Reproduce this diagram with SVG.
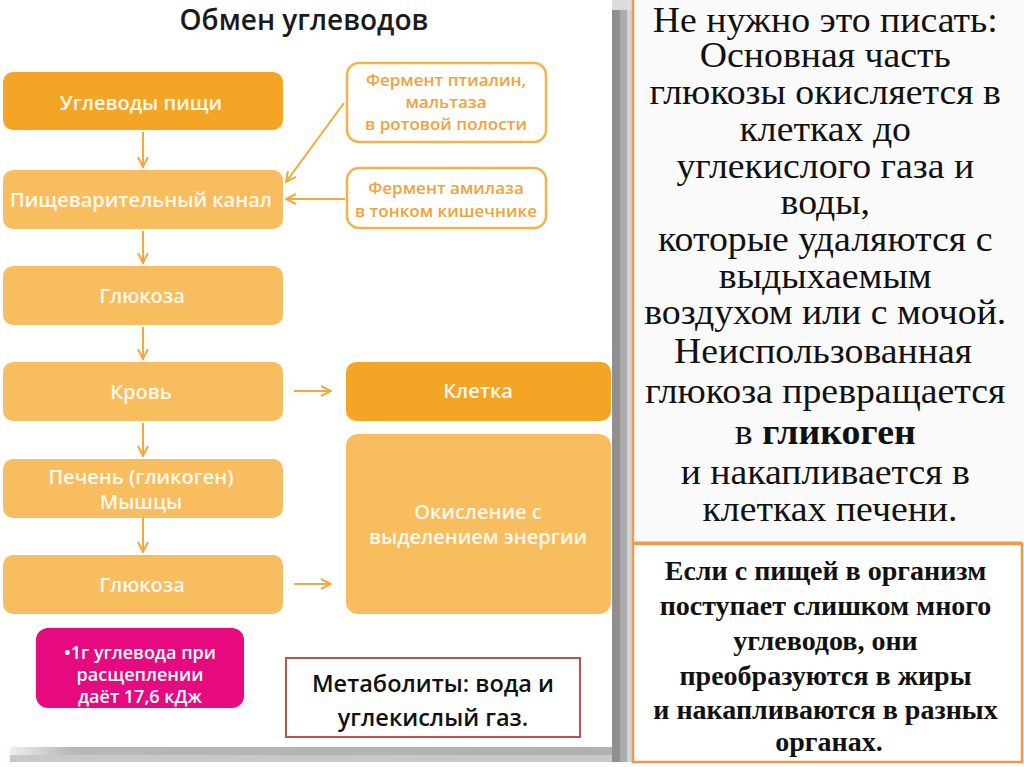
<svg xmlns="http://www.w3.org/2000/svg" width="1024" height="767" viewBox="0 0 1024 767">
<defs>
<style>
.box{stroke:none}
.dark{fill:#F4A526}
.light{fill:#F8BD5F}
.out{fill:#fff;stroke:#F5B24A;stroke-width:2.5}
.t{font-family:"Open Sans","Liberation Sans",sans-serif;font-weight:600;text-anchor:middle}
.w{fill:#FFF8EC;font-size:20px}
.o{fill:#F2A23A;font-size:17px}
.ser{font-family:"Liberation Serif","Times New Roman",serif;text-anchor:middle;fill:#111}
.conn{stroke:#F2A93B;stroke-width:2;fill:none}
</style>
<marker id="ah" viewBox="0 0 12 12" refX="11" refY="6" markerWidth="12" markerHeight="12" markerUnits="userSpaceOnUse" orient="auto">
<path d="M1,1 L11,6 L1,11" fill="none" stroke="#F2A93B" stroke-width="2"/>
</marker>
<linearGradient id="gb" x1="0" y1="0" x2="1" y2="0">
<stop offset="0" stop-color="#eeeeee"/>
<stop offset="0.1" stop-color="#b8b8b8"/>
<stop offset="1" stop-color="#b0b0b0"/>
</linearGradient>
</defs>
<rect x="0" y="0" width="1024" height="767" fill="#fdfdfd"/>
<g id="shadow">
<rect x="612" y="10" width="8" height="752" fill="#8f8f8f"/>
<rect x="620" y="10" width="7" height="752" fill="#ababab"/>
<rect x="627" y="6" width="5" height="756" fill="#d4d4d4"/>
<rect x="612" y="0" width="20" height="10" fill="#dcdcdc"/>
<rect x="10" y="747" width="602" height="8" fill="url(#gb)"/>
<rect x="10" y="755" width="602" height="7" fill="#c8c8c8"/>
<rect x="0" y="0" width="612" height="747" fill="#ffffff"/>
</g>
<g id="note-top">
<rect x="634" y="0" width="390" height="543" fill="#fafafa"/>
<line x1="633" y1="0" x2="633" y2="543" stroke="#EE9A4E" stroke-width="2.5"/>
<line x1="633" y1="543" x2="1022" y2="543" stroke="#EE9A4E" stroke-width="3"/>
<text class="ser" font-size="35" transform="translate(830,0) scale(1.08,1) translate(-830,0)">
<tspan x="830" y="32">Не нужно это писать:</tspan>
<tspan x="830" y="67">Основная часть</tspan>
<tspan x="830" y="104">глюкозы окисляется в</tspan>
<tspan x="830" y="141">клетках до</tspan>
<tspan x="830" y="178">углекислого газа и</tspan>
<tspan x="830" y="214">воды,</tspan>
<tspan x="830" y="251">которые удаляются с</tspan>
<tspan x="830" y="288">выдыхаемым</tspan>
<tspan x="830" y="324">воздухом или с мочой.</tspan>
<tspan x="828" y="363">Неиспользованная</tspan>
<tspan x="830" y="403">глюкоза превращается</tspan>
<tspan x="830" y="444">в <tspan font-weight="bold">гликоген</tspan></tspan>
<tspan x="830" y="484">и накапливается в</tspan>
<tspan x="830" y="521">клетках печени.</tspan>
</text>
</g>
<g id="note-bottom">
<rect x="633" y="544" width="389" height="218" fill="#ffffff" stroke="#EE9A4E" stroke-width="2.5"/>
<text class="ser" font-size="28" font-weight="bold">
<tspan x="829" y="580">Если с пищей в организм</tspan>
<tspan x="829" y="615">поступает слишком много</tspan>
<tspan x="829" y="650">углеводов, они</tspan>
<tspan x="829" y="685">преобразуются в жиры</tspan>
<tspan x="829" y="719">и накапливаются в разных</tspan>
<tspan x="829" y="751">органах.</tspan>
</text>
</g>
<text x="304" y="30" class="t" font-size="28" font-weight="500" fill="#1a1a1a">Обмен углеводов</text>
<g id="n1"><rect class="box dark" x="3" y="72" width="280" height="58" rx="10"/><text class="t w" x="141" y="110">Углеводы пищи</text></g>
<g id="n2"><rect class="box light" x="3" y="170" width="280" height="59" rx="10"/><text class="t w" x="141" y="207">Пищеварительный канал</text></g>
<g id="n3"><rect class="box light" x="3" y="266" width="280" height="59" rx="10"/><text class="t w" x="142" y="303">Глюкоза</text></g>
<g id="n4"><rect class="box light" x="3" y="362" width="280" height="59" rx="10"/><text class="t w" x="141" y="399">Кровь</text></g>
<g id="n5"><rect class="box light" x="3" y="459" width="280" height="59" rx="10"/><text class="t w" x="141" y="484">Печень (гликоген)</text><text class="t w" x="141" y="509">Мышцы</text></g>
<g id="n6"><rect class="box light" x="3" y="555" width="280" height="59" rx="10"/><text class="t w" x="142" y="592">Глюкоза</text></g>
<g id="e1"><rect class="out" x="347" y="63" width="199" height="79" rx="12"/>
<text class="t o" x="446" y="86">Фермент птиалин,</text><text class="t o" x="446" y="108">мальтаза</text><text class="t o" x="446" y="130">в ротовой полости</text></g>
<g id="e2"><rect class="out" x="347" y="168" width="199" height="60" rx="12"/>
<text class="t o" x="446" y="194">Фермент амилаза</text><text class="t o" x="446" y="217">в тонком кишечнике</text></g>
<g id="cell"><rect class="box dark" x="346" y="362" width="265" height="59" rx="10"/><text class="t w" x="478" y="398">Клетка</text></g>
<g id="oxid"><rect class="box light" x="346" y="434" width="265" height="180" rx="12"/><text class="t w" x="478" y="519">Окисление с</text><text class="t w" x="478" y="544">выделением энергии</text></g>
<g id="energy"><rect x="36" y="628" width="208" height="80" rx="12" fill="#E6097F"/>
<text class="t" font-size="18" fill="#fff" x="140" y="659">•1г углевода при</text><text class="t" font-size="18" fill="#fff" x="140" y="681">расщеплении</text><text class="t" font-size="18" fill="#fff" x="140" y="703">даёт 17,6 кДж</text></g>
<g id="metab"><rect x="286" y="658" width="294" height="79" fill="#fff" stroke="#C0504D" stroke-width="2"/>
<text class="t" font-size="23.5" fill="#111" x="433" y="692">Метаболиты: вода и</text><text class="t" font-size="23.5" fill="#111" x="433" y="726">углекислый газ.</text></g>
<g id="connectors">
<path class="conn" marker-end="url(#ah)" d="M143,132 V167"/>
<path class="conn" marker-end="url(#ah)" d="M143,231 V263"/>
<path class="conn" marker-end="url(#ah)" d="M143,327 V359"/>
<path class="conn" marker-end="url(#ah)" d="M143,423 V456"/>
<path class="conn" marker-end="url(#ah)" d="M143,518 V552"/>
<path class="conn" marker-end="url(#ah)" d="M344,103 L286,182"/>
<path class="conn" marker-end="url(#ah)" d="M345,199 H286"/>
<path class="conn" marker-end="url(#ah)" d="M294,391 H331"/>
<path class="conn" marker-end="url(#ah)" d="M294,584 H331"/>
</g>
</svg>
